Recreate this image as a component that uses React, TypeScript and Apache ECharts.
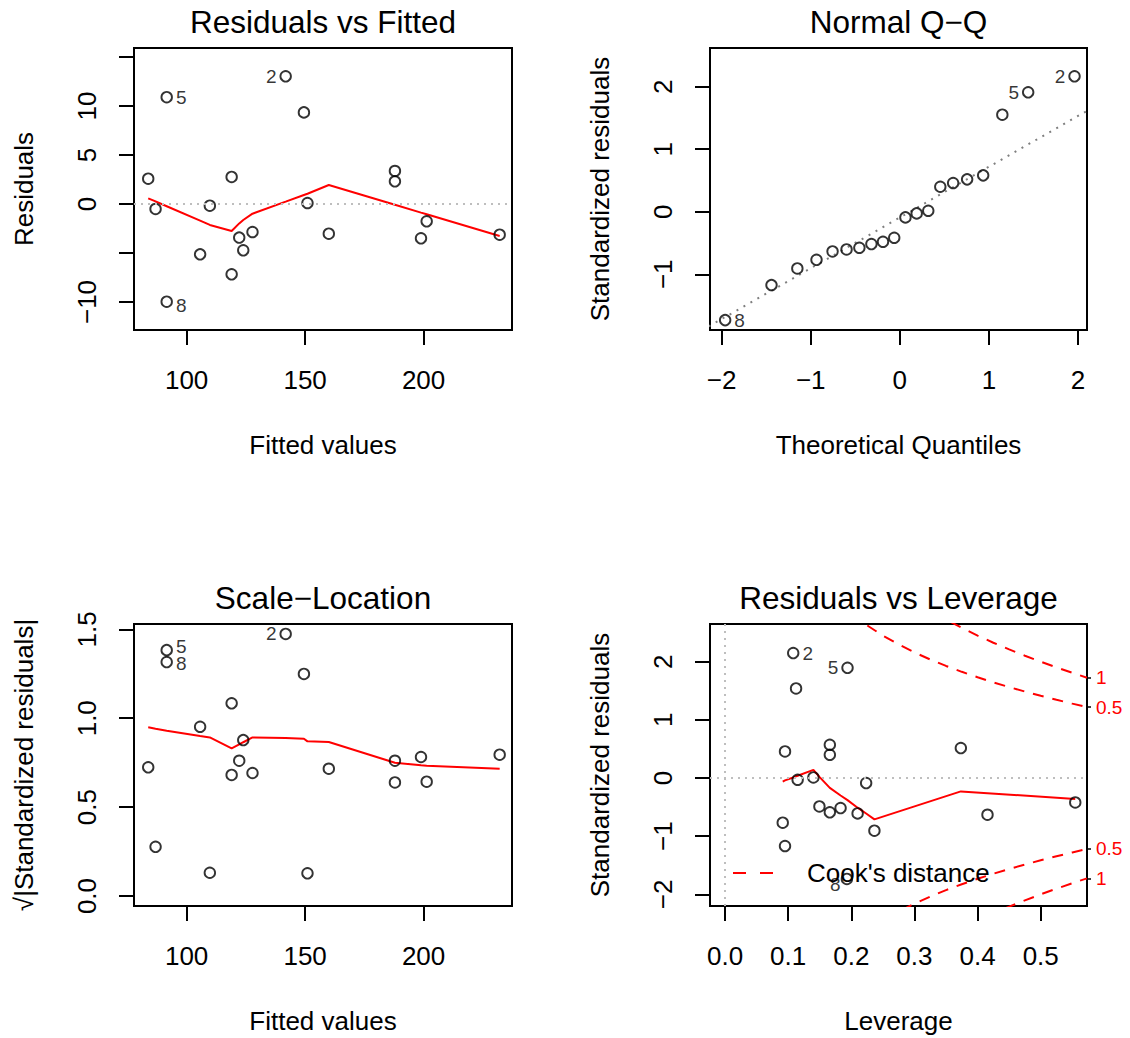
import React, { useEffect, useRef } from 'react';
import * as echarts from 'echarts';

const FONT = '"Liberation Sans", Arial, Helvetica, sans-serif';

// ---- Observations (Residuals vs Fitted / Scale-Location) ----
const fitted = [83.8, 86.9, 91.6, 91.6, 105.7, 109.8, 119.0, 119.0, 122.2, 123.9, 127.8, 141.8, 149.5, 151.0, 160.0, 187.9, 187.9, 198.9, 201.3, 232.1];
const residuals = [2.58, -0.51, 10.9, -9.97, -5.14, -0.17, 2.76, -7.18, -3.43, -4.73, -2.86, 13.03, 9.35, 0.1, -3.03, 3.37, 2.31, -3.5, -1.77, -3.13];
const sqrtStdResid = [0.724, 0.277, 1.383, 1.316, 0.952, 0.131, 1.084, 0.681, 0.761, 0.877, 0.692, 1.474, 1.249, 0.128, 0.716, 0.761, 0.639, 0.782, 0.643, 0.795];
const obsIds = ['', '', '5', '8', '', '', '', '', '', '', '', '2', '', '', '', '', '', '', '', ''];

// smoother lines
const smoothFittedX = [83.8, 86.9, 91.6, 105.7, 109.8, 119.0, 122.2, 123.9, 127.8, 141.8, 149.5, 151.0, 160.0, 187.9, 198.9, 201.3, 232.1];
const rvfSmoothY = [0.58, 0.26, -0.23, -1.7, -2.14, -2.76, -1.98, -1.63, -0.99, 0.24, 0.92, 1.05, 1.94, -0.07, -0.88, -1.05, -3.27];
const slSmoothY = [0.949, 0.941, 0.93, 0.9, 0.892, 0.831, 0.853, 0.865, 0.892, 0.889, 0.885, 0.87, 0.866, 0.75, 0.735, 0.733, 0.716];

// ---- Normal Q-Q ----
const qqTheoretical = [-1.96, -1.44, -1.15, -0.935, -0.755, -0.598, -0.454, -0.319, -0.189, -0.063, 0.063, 0.189, 0.319, 0.454, 0.598, 0.755, 0.935, 1.15, 1.44, 1.96];
const qqSample = [-1.733, -1.173, -0.906, -0.768, -0.634, -0.602, -0.576, -0.517, -0.48, -0.416, -0.09, -0.026, 0.016, 0.4, 0.459, 0.518, 0.582, 1.552, 1.91, 2.166];
const qqIds = ['8', '', '', '', '', '', '', '', '', '', '', '', '', '', '', '', '', '', '5', '2'];
const qqLineX = [-2.3, 2.3];
const qqLineY = [-1.960, 1.776];

// ---- Residuals vs Leverage ----
const leverage = [0.108, 0.194, 0.1125, 0.095, 0.166, 0.166, 0.3735, 0.115, 0.14, 0.2235, 0.1495, 0.166, 0.183, 0.21, 0.2366, 0.4157, 0.5547, 0.0914, 0.095, 0.193];
const levStdResid = [2.148, 1.895, 1.54, 0.457, 0.572, 0.4, 0.515, -0.03, 0.01, -0.086, -0.488, -0.59, -0.516, -0.608, -0.905, -0.631, -0.419, -0.768, -1.169, -1.735];
const levIds = ['2', '5', '', '', '', '', '', '', '', '', '', '', '', '', '', '', '', '', '', '8'];
const levSmoothX = [0.0914, 0.095, 0.108, 0.1125, 0.115, 0.14, 0.1495, 0.166, 0.183, 0.194, 0.21, 0.2235, 0.2366, 0.3735, 0.4157, 0.5547];
const levSmoothY = [-0.06, -0.04, 0.01, 0.03, 0.04, 0.14, 0.02, -0.17, -0.3, -0.38, -0.51, -0.61, -0.71, -0.23, -0.26, -0.36];

// Cook's distance contours (upper halves; lower halves mirrored)
const cookHalfX = [0.2, 0.225, 0.25, 0.275, 0.3, 0.325, 0.35, 0.375, 0.4, 0.425, 0.45, 0.475, 0.5, 0.525, 0.55, 0.5733];
const cookHalfY = [2.828, 2.625, 2.449, 2.296, 2.16, 2.038, 1.927, 1.826, 1.732, 1.645, 1.563, 1.487, 1.414, 1.345, 1.279, 1.22];
const cookOneX = [0.33, 0.35, 0.375, 0.4, 0.425, 0.45, 0.475, 0.5, 0.525, 0.55, 0.5733];
const cookOneY = [2.85, 2.726, 2.582, 2.449, 2.326, 2.211, 2.103, 2.0, 1.902, 1.809, 1.725];
const cookAxisValues = [-1.725, -1.22, 1.22, 1.725];
const cookAxisLabels = ['1', '0.5', '0.5', '1'];

// ---- Axis ticks ----
const fittedTicks = [100, 150, 200];
const residTicks = [-10, -5, 0, 5, 10, 15];
const residLabels = [-10, 0, 5, 10];
const qqXTicks = [-2, -1, 0, 1, 2];
const qqYTicks = [-1, 0, 1, 2];
const slYTicks = [0, 0.5, 1, 1.5];
const levXTicks = [0, 0.1, 0.2, 0.3, 0.4, 0.5];
const levYTicks = [-2, -1, 0, 1, 2];

const RED = '#FF0000';
const GREY = '#BEBEBE';

const fmt = (v: number, digits: number) => (digits ? v.toFixed(digits) : String(Math.round(v))).replace('-', '\u2212');

const axisText = { color: '#000', fontFamily: FONT, fontSize: 26 };

function xAxisCfg(grid: number, min: number, max: number, ticks: number[], labels: number[], name: string, digits: number) {
  return {
    type: 'value', gridIndex: grid, min, max, position: 'bottom',
    name, nameLocation: 'middle', nameGap: 102, nameTextStyle: { ...axisText },
    axisLine: { show: true, onZero: false, lineStyle: { color: '#000', width: 2 } },
    axisTick: { show: true, length: 15, customValues: ticks, lineStyle: { color: '#000', width: 2 } },
    axisLabel: { show: true, customValues: labels, margin: 37, ...axisText, formatter: (v: number) => fmt(v, digits) },
    splitLine: { show: false },
  };
}

function yAxisCfg(grid: number, min: number, max: number, ticks: number[], labels: number[], name: string, digits: number) {
  return {
    type: 'value', gridIndex: grid, min, max, position: 'left',
    name, nameLocation: 'middle', nameGap: 97, nameRotate: 90, nameTextStyle: { ...axisText },
    axisLine: { show: true, onZero: false, lineStyle: { color: '#000', width: 2 } },
    axisTick: { show: true, length: 15, customValues: ticks, lineStyle: { color: '#000', width: 2 } },
    axisLabel: { show: true, customValues: labels, margin: 34, rotate: 90, ...axisText, formatter: (v: number) => fmt(v, digits) },
    splitLine: { show: false },
  };
}

type Side = { position: string; offset?: number[] };

function points(grid: number, xs: number[], ys: number[], ids: string[], sides: Record<string, Side>, yAxis = grid) {
  return {
    type: 'scatter', xAxisIndex: grid, yAxisIndex: yAxis,
    symbol: 'circle', symbolSize: 10.5, z: 4,
    itemStyle: { color: 'rgba(0,0,0,0)', borderColor: '#000', borderWidth: 1.9 },
    label: { show: false, color: '#000', fontFamily: FONT, fontSize: 19, distance: 3 },
    emphasis: { disabled: true },
    silent: true,
    data: xs.map((x, i) => {
      const id = ids[i];
      const item: any = { value: [x, ys[i]] };
      if (id) {
        const s = sides[id] || { position: 'right' };
        item.label = {
          show: true, formatter: id, position: s.position, offset: s.offset || [0, 0],
          fontFamily: FONT, fontSize: 19, color: '#000', distance: 3,
        };
      }
      return item;
    }),
  };
}

function line(grid: number, xs: number[], ys: number[], color: string, width: number, type: any, extra: any = {}) {
  return {
    type: 'line', xAxisIndex: grid, yAxisIndex: grid,
    data: xs.map((x, i) => [x, ys[i]]),
    symbol: 'none', showSymbol: false, silent: true, clip: true, z: 3,
    lineStyle: { color, width, type },
    itemStyle: { color },
    emphasis: { disabled: true },
    ...extra,
  };
}

const zeroMark = (data: any[]) => ({
  silent: true, symbol: ['none', 'none'], label: { show: false },
  lineStyle: { color: GREY, width: 2, type: [2, 5] },
  emphasis: { disabled: true },
  data,
});

export default function App() {
  const ref = useRef<HTMLDivElement>(null);
  useEffect(() => {
    if (!ref.current) return;
    const chart = echarts.init(ref.current, undefined, { renderer: 'svg' });
    const W = 378, H = 282, W2 = 377;
    const grids = [
      { left: 134, top: 48, width: W, height: H },
      { left: 710, top: 48, width: W2, height: H },
      { left: 134, top: 624, width: W, height: H },
      { left: 710, top: 624, width: W2, height: H },
    ].map(g => ({ ...g, show: true, borderColor: '#000', borderWidth: 2, backgroundColor: 'rgba(0,0,0,0)', containLabel: false, outerBoundsMode: 'none' }));

    const titleStyle = { fontSize: 31.5, fontWeight: 'normal', color: '#000', fontFamily: FONT };
    const titles = [
      { text: 'Residuals vs Fitted', left: 323, top: 6 },
      { text: 'Normal Q\u2212Q', left: 898.5, top: 6 },
      { text: 'Scale\u2212Location', left: 323, top: 582 },
      { text: 'Residuals vs Leverage', left: 898.5, top: 582 },
    ].map(t => ({ ...t, textAlign: 'center', padding: 0, textStyle: titleStyle }));

    const lowerHalf = cookHalfY.map(v => -v);
    const lowerOne = cookOneY.map(v => -v);

    const option: any = {
      animation: false,
      backgroundColor: '#fff',
      title: titles,
      grid: grids,
      legend: {
        data: ["Cook's distance"], left: 733, top: 860, padding: 0,
        icon: 'path://M0,0H13V2H0Z M27,0H40V2H27Z',
        itemWidth: 40, itemHeight: 2, selectedMode: false,
        itemStyle: { color: RED, borderWidth: 0 },
        textStyle: { fontSize: 26, color: '#000', fontFamily: FONT, padding: [0, 0, 0, 29] },
      },
      xAxis: [
        xAxisCfg(0, 77.8, 237.3, fittedTicks, fittedTicks, 'Fitted values', 0),
        xAxisCfg(1, -2.13, 2.1, qqXTicks, qqXTicks, 'Theoretical Quantiles', 0),
        xAxisCfg(2, 77.8, 237.3, fittedTicks, fittedTicks, 'Fitted values', 0),
        xAxisCfg(3, -0.0238, 0.5733, levXTicks, levXTicks, 'Leverage', 1),
      ],
      yAxis: [
        yAxisCfg(0, -12.86, 15.92, residTicks, residLabels, 'Residuals', 0),
        yAxisCfg(1, -1.891, 2.619, qqYTicks, qqYTicks, 'Standardized residuals', 0),
        yAxisCfg(2, -0.056, 1.53, slYTicks, slYTicks, '\u221A|Standardized residuals|', 1),
        yAxisCfg(3, -2.2, 2.648, levYTicks, levYTicks, 'Standardized residuals', 0),
        {
          type: 'value', gridIndex: 3, position: 'right', min: -2.2, max: 2.648,
          axisLine: { show: true, onZero: false, lineStyle: { color: '#000', width: 2 } },
          axisTick: { show: true, length: 4, customValues: cookAxisValues, lineStyle: { color: '#000', width: 1.5 } },
          axisLabel: {
            show: true, customValues: cookAxisValues, margin: 9, color: RED, fontSize: 19, fontFamily: FONT,
            formatter: (v: number) => {
              const i = cookAxisValues.findIndex(c => Math.abs(c - v) < 1e-6);
              return i >= 0 ? cookAxisLabels[i] : '';
            },
          },
          splitLine: { show: false },
        },
      ],
      series: [
        // Panel 1
        line(0, smoothFittedX, rvfSmoothY, RED, 2, 'solid', { markLine: zeroMark([{ yAxis: 0 }]) }),
        points(0, fitted, residuals, obsIds, {
          '5': { position: 'right' }, '8': { position: 'right', offset: [0, 4] }, '2': { position: 'left' },
        }),
        // Panel 2
        line(1, qqLineX, qqLineY, '#7F7F7F', 2, [2, 6]),
        points(1, qqTheoretical, qqSample, qqIds, {
          '8': { position: 'right' }, '5': { position: 'left' }, '2': { position: 'left' },
        }),
        // Panel 3
        line(2, smoothFittedX, slSmoothY, RED, 2, 'solid'),
        points(2, fitted, sqrtStdResid, obsIds, {
          '5': { position: 'right', offset: [0, -4] }, '8': { position: 'right', offset: [0, 1] }, '2': { position: 'left' },
        }),
        // Panel 4
        line(3, levSmoothX, levSmoothY, RED, 2, 'solid', { markLine: zeroMark([{ yAxis: 0 }, { xAxis: 0 }]) }),
        line(3, cookHalfX, cookHalfY, RED, 2, [11, 9], { name: "Cook's distance" }),
        line(3, cookOneX, cookOneY, RED, 2, [11, 9], { name: "Cook's distance" }),
        line(3, cookHalfX, lowerHalf, RED, 2, [11, 9], { name: "Cook's distance" }),
        line(3, cookOneX, lowerOne, RED, 2, [11, 9], { name: "Cook's distance" }),
        points(3, leverage, levStdResid, levIds, {
          '2': { position: 'right' }, '5': { position: 'left' }, '8': { position: 'left', offset: [3, 6] },
        }),
      ],
    };
    chart.setOption(option);
    return () => chart.dispose();
  }, []);
  return <div ref={ref} style={{ position: 'absolute', left: 0, top: 0, width: 1130, height: 1038 }} />;
}
